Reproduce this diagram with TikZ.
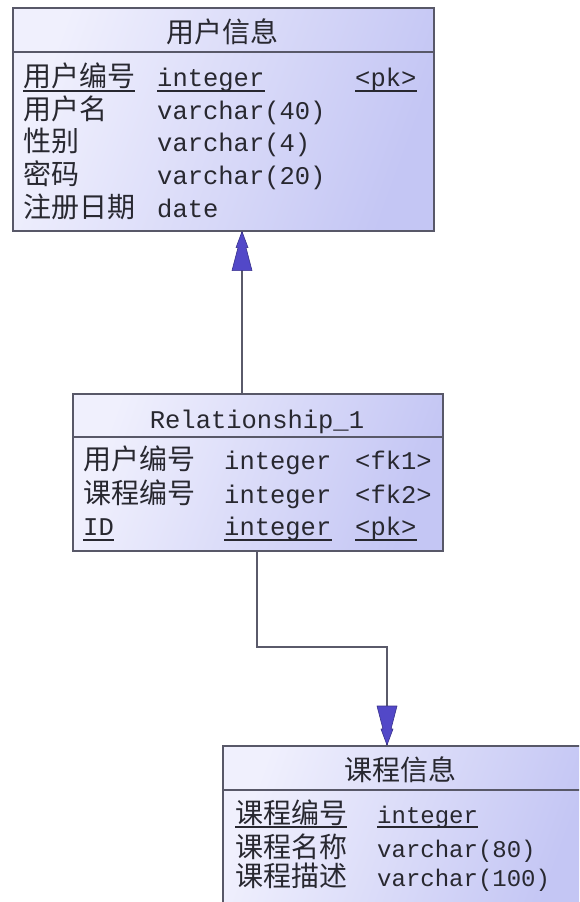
\documentclass[tikz,border=0pt]{standalone}
\usepackage{fontspec}
\setmonofont{Liberation Mono}
\newfontfamily\cjk{Noto Sans CJK SC}
\definecolor{txt}{RGB}{40,40,48}
\definecolor{bord}{RGB}{88,88,104}
\definecolor{shA}{RGB}{240,240,253}
\definecolor{shB}{RGB}{196,198,244}
\definecolor{connc}{RGB}{90,90,106}
\definecolor{headc}{RGB}{82,72,200}
\tikzset{
  tbl/.style={draw=bord, line width=1.6pt, left color=shA, right color=shB, shading angle=70, inner sep=0, anchor=north west},
  sepline/.style={draw=bord, line width=1.6pt},
  ttl/.style={font=\cjk\fontsize{28}{30}\selectfont, text=txt, inner sep=0, anchor=base},
  cj/.style={font=\cjk\fontsize{28}{30}\selectfont, text=txt, inner sep=0, anchor=base west},
  mo/.style={font=\ttfamily\fontsize{25.5}{28}\selectfont, text=txt, inner sep=0, anchor=base west},
  mos/.style={mo, font=\ttfamily\fontsize{24}{26}\selectfont},
  ul/.style={draw=txt, line width=1.3pt},
  conn/.style={draw=connc, line width=1.8pt},
  headfill/.style={fill=headc, draw=headc!70!black, line width=0.6pt, line join=round},
}
\begin{document}
\begin{tikzpicture}[x=1pt,y=-1pt]
\useasboundingbox (0,0) rectangle (579,902);
\clip (0,0) rectangle (579,902);
\fill[white] (0,0) rectangle (579,902);

% ---------- box 1 ----------
\node[tbl, minimum width=421, minimum height=223] (b1) at (12,7) {};
\coordinate (h1) at (0,52);
\draw[sepline] (b1.west |- h1) -- (b1.east |- h1);
\node[ttl] (n1) at (222,42) {用户信息};
\node[cj] (r11) at (23,86) {用户编号};
\node[mo] (t11) at (157,86) {integer};
\node[mo] (k11) at (355,86) {<pk>};
\node[cj] (r12) at (23,119) {用户名};
\node[mo] (t12) at (157,119) {varchar(40)};
\node[cj] (r13) at (23,151) {性别};
\node[mo] (t13) at (157,151) {varchar(4)};
\node[cj] (r14) at (23,184) {密码};
\node[mo] (t14) at (157,184) {varchar(20)};
\node[cj] (r15) at (23,217) {注册日期};
\node[mo] (t15) at (157,217) {date};
\foreach \n in {r11,t11,k11}
  \draw[ul] ([yshift=-5]\n.base west) -- ([yshift=-5]\n.base east);

% ---------- box 2 ----------
\node[tbl, minimum width=370, minimum height=157] (b2) at (72,393) {};
\coordinate (h2) at (0,437);
\draw[sepline] (b2.west |- h2) -- (b2.east |- h2);
\node[mo, anchor=base] (n2) at (257,428) {Relationship\_1};
\node[cj] (r21) at (83,469) {用户编号};
\node[mo] (t21) at (224,469) {integer};
\node[mo] (k21) at (355,469) {<fk1>};
\node[cj] (r22) at (83,503) {课程编号};
\node[mo] (t22) at (224,503) {integer};
\node[mo] (k22) at (355,503) {<fk2>};
\node[mo] (r23) at (83,535) {ID};
\node[mo] (t23) at (224,535) {integer};
\node[mo] (k23) at (355,535) {<pk>};
\foreach \n in {r23,t23,k23}
  \draw[ul] ([yshift=-5]\n.base west) -- ([yshift=-5]\n.base east);

% ---------- box 3 ----------
\node[tbl, minimum width=360, minimum height=175] (b3) at (222,745) {};
\coordinate (h3) at (0,790);
\draw[sepline] (b3.west |- h3) -- (b3.east |- h3);
\node[ttl] (n3) at (400,780) {课程信息};
\node[cj] (r31) at (235,823) {课程编号};
\node[mos] (t31) at (377,823) {integer};
\node[cj] (r32) at (235,857) {课程名称};
\node[mos] (t32) at (377,857) {varchar(80)};
\node[cj] (r33) at (235,886) {课程描述};
\node[mos] (t33) at (377,886) {varchar(100)};
\foreach \n in {r31,t31}
  \draw[ul] ([yshift=-4]\n.base west) -- ([yshift=-4]\n.base east);

% ---------- connectors ----------
\coordinate (a1) at (242,300);
\draw[conn] (b2.north -| a1) -- (b1.south -| a1);
\fill[headfill] (b1.south -| a1) -- ++(-6,16) -- ++(2,0) -- ++(-6,23) -- ++(20,0) -- ++(-6,-23) -- ++(2,0) -- cycle;

\coordinate (a2) at (257,600);
\coordinate (a3) at (387,647);
\draw[conn] (b2.south -| a2) |- (a3) -- (b3.north -| a3);
\fill[headfill] (b3.north -| a3) -- ++(-6,-16) -- ++(2,0) -- ++(-6,-23) -- ++(20,0) -- ++(-6,23) -- ++(2,0) -- cycle;
\end{tikzpicture}
\end{document}
